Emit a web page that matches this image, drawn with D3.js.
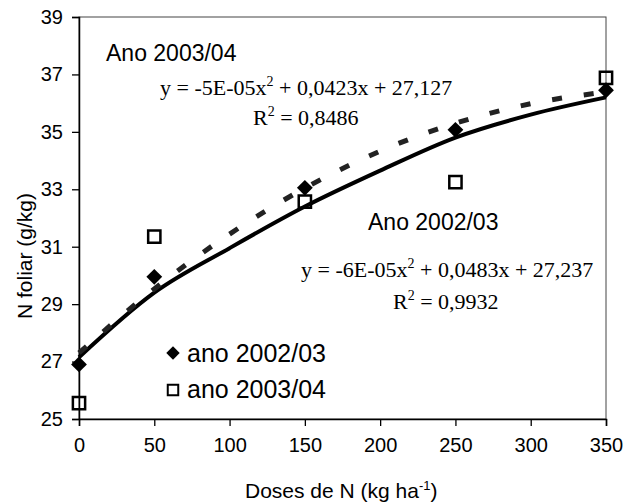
<!DOCTYPE html>
<html>
<head>
<meta charset="utf-8">
<script src="https://cdn.jsdelivr.net/npm/d3@7"></script>
<style>
  body { margin: 0; background: #fff; }
  svg { display: block; }
  text { font-family: "Liberation Sans", Arial, sans-serif; fill: #000; }
  .serif { font-family: "Liberation Serif", "Times New Roman", serif; }
</style>
</head>
<body>
<div id="chart"></div>
<script>
// measured points
const doses = [0, 50, 150, 250, 350];
const ano0203 = [26.9, 29.95, 33.05, 35.07, 36.45];
const ano0304 = [25.55, 31.35, 32.57, 33.25, 36.88];

// trend curves
const curveX = [0, 50, 100, 150, 200, 250, 300, 350];
const trend0203 = [27.3, 29.53, 31.44, 33.04, 34.33, 35.3, 35.98, 36.39];
const trend0304 = [27.15, 29.4, 30.95, 32.4, 33.65, 34.8, 35.6, 36.2];

const xTicks = [0, 50, 100, 150, 200, 250, 300, 350];
const yTicks = [25, 27, 29, 31, 33, 35, 37, 39];

const width = 636, height = 503;
const margin = {top: 17, right: 30, bottom: 84, left: 79};

const svg = d3.select("#chart").append("svg")
    .attr("width", width)
    .attr("height", height);

const x = d3.scaleLinear().domain([0, 350]).range([margin.left, width - margin.right]);
const y = d3.scaleLinear().domain([25, 39]).range([height - margin.bottom, margin.top]);

// plot frame
svg.append("rect")
    .attr("x", x(0)).attr("y", y(39))
    .attr("width", x(350) - x(0)).attr("height", y(25) - y(39))
    .attr("fill", "none").attr("stroke", "#444").attr("stroke-width", 1);

// axes
const xAxis = svg.append("g")
    .attr("transform", `translate(0,${y(25)})`)
    .call(d3.axisBottom(x).tickValues(xTicks).tickSize(7).tickPadding(12));
const yAxis = svg.append("g")
    .attr("transform", `translate(${x(0)},0)`)
    .call(d3.axisLeft(y).tickValues(yTicks).tickSize(7).tickPadding(9));

[xAxis, yAxis].forEach(g => {
    g.select(".domain").attr("stroke", "#000").attr("stroke-width", 1.5);
    g.selectAll(".tick line").attr("stroke", "#000").attr("stroke-width", 1.3);
    g.selectAll(".tick text").attr("font-size", 20).attr("font-family", "Liberation Sans, Arial, sans-serif").attr("fill", "#000");
});

// trend lines
const line = d3.line()
    .x(d => x(d[0]))
    .y(d => y(d[1]))
    .curve(d3.curveMonotoneX);

svg.append("path")
    .datum(d3.zip(curveX, trend0304))
    .attr("d", line)
    .attr("fill", "none")
    .attr("stroke", "#000")
    .attr("stroke-width", 4);

svg.append("path")
    .datum(d3.zip(curveX, trend0203))
    .attr("d", line)
    .attr("fill", "none")
    .attr("stroke", "#222")
    .attr("stroke-width", 5)
    .attr("stroke-dasharray", "10,22");

// markers
const diamond = d3.symbol().type(d3.symbolSquare).size(125);
const square = d3.symbol().type(d3.symbolSquare).size(150);

svg.append("g").selectAll("path")
    .data(d3.zip(doses, ano0304))
    .join("path")
    .attr("d", square)
    .attr("transform", d => `translate(${x(d[0])},${y(d[1])})`)
    .attr("fill", "none")
    .attr("stroke", "#000")
    .attr("stroke-width", 2.5);

svg.append("g").selectAll("path")
    .data(d3.zip(doses, ano0203))
    .join("path")
    .attr("d", diamond)
    .attr("transform", d => `translate(${x(d[0])},${y(d[1])}) rotate(45)`)
    .attr("fill", "#000");

// annotations: text before the superscript, the superscript, text after
function equation(xp, yp, before, sup, after) {
    const t = svg.append("text").attr("class", "serif")
        .attr("x", xp).attr("y", yp).attr("font-size", 22);
    t.append("tspan").text(before);
    t.append("tspan").attr("dy", -9).attr("font-size", 14).text(sup);
    t.append("tspan").attr("dy", 9).text(after);
}

svg.append("text").attr("x", 106).attr("y", 61).attr("font-size", 23).text("Ano 2003/04");
equation(160, 95, "y = -5E-05x", "2", " + 0,0423x + 27,127");
equation(253, 125, "R", "2", " = 0,8486");

svg.append("text").attr("x", 368).attr("y", 230).attr("font-size", 23).text("Ano 2002/03");
equation(301, 277, "y = -6E-05x", "2", " + 0,0483x + 27,237");
equation(393, 309, "R", "2", " = 0,9932");

// legend
const legend = svg.append("g");
legend.append("path")
    .attr("d", d3.symbol().type(d3.symbolSquare).size(90))
    .attr("transform", "translate(173,353) rotate(45)")
    .attr("fill", "#000");
legend.append("text").attr("x", 187).attr("y", 362).attr("font-size", 25).text("ano 2002/03");
legend.append("path")
    .attr("d", d3.symbol().type(d3.symbolSquare).size(110))
    .attr("transform", "translate(173,390)")
    .attr("fill", "none").attr("stroke", "#000").attr("stroke-width", 2);
legend.append("text").attr("x", 187).attr("y", 398).attr("font-size", 25).text("ano 2003/04");

// axis titles
const xt = svg.append("text")
    .attr("x", 245).attr("y", 498).attr("font-size", 21);
xt.append("tspan").text("Doses de N (kg ha");
xt.append("tspan").attr("dy", -8).attr("font-size", 13).text("-1");
xt.append("tspan").attr("dy", 8).text(")");

svg.append("text")
    .attr("transform", `translate(32,${(y(25) + y(39)) / 2 + 38}) rotate(-90)`)
    .attr("text-anchor", "middle")
    .attr("font-size", 21)
    .text("N foliar (g/kg)");
</script>
</body>
</html>
